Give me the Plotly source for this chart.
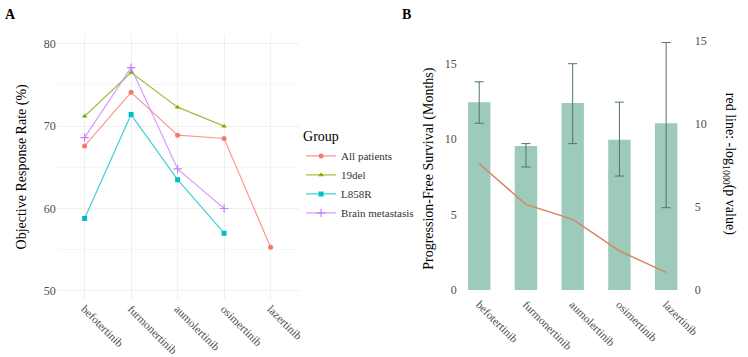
import plotly.graph_objects as go

W, H = 748, 357

drugs = ["befotertinib", "furmonertinib", "aumolertinib", "osimertinib", "lazertinib"]

# Panel A: objective response rate (%)
orr_all = [67.6, 74.1, 68.9, 68.5, 55.3]
orr_19del = [71.2, 76.5, 72.3, 70.0]
orr_l858r = [58.8, 71.4, 63.5, 57.0]
orr_brain = [68.6, 77.1, 64.8, 60.0]

# Panel B: PFS (months) with CI, and -log1000(p)
pfs_median = [12.45, 9.55, 12.4, 9.95, 11.05]
pfs_lower = [11.05, 8.15, 9.7, 7.55, 5.45]
pfs_upper = [13.8, 9.7, 15.0, 12.45, 16.4]
neglog_p = [7.6, 5.15, 4.25, 2.35, 1.05]

SERIF = "Liberation Serif"

groups = [
    ("All patients", orr_all, "#F8766D", "rgba(248,118,109,0.75)", "circle"),
    ("19del", orr_19del, "#7CAE00", "rgba(124,174,0,0.75)", "triangle-up"),
    ("L858R", orr_l858r, "#00BFC4", "rgba(0,191,196,0.75)", "square"),
    ("Brain metastasis", orr_brain, "#C77CFF", "rgba(199,124,255,0.75)", "cross-thin"),
]

fig = go.Figure()

for name, vals, col, lcol, sym in groups:
    marker = dict(color=col, size=5, symbol=sym)
    if sym == "cross-thin":
        marker.update(size=6, line=dict(color=col, width=1.2))
    fig.add_trace(go.Scatter(
        x=drugs[:len(vals)], y=vals, name=name, mode="lines+markers",
        line=dict(color=lcol, width=1.2), marker=marker,
        xaxis="x", yaxis="y", showlegend=True,
    ))

err_plus = [u - m for u, m in zip(pfs_upper, pfs_median)]
err_minus = [m - l for m, l in zip(pfs_median, pfs_lower)]

fig.add_trace(go.Bar(
    x=drugs, y=pfs_median, width=0.48,
    marker=dict(color="#9DCABB", line=dict(width=0)),
    error_y=dict(type="data", symmetric=False, array=err_plus, arrayminus=err_minus,
                 color="#52707C", thickness=1, width=4.5),
    xaxis="x2", yaxis="y2", showlegend=False,
))

fig.add_trace(go.Scatter(
    x=drugs, y=neglog_p, mode="lines",
    line=dict(color="#D9825E", width=1.4),
    xaxis="x2", yaxis="y3", showlegend=False,
))

tickfont = dict(family=SERIF, size=12, color="#4D4D4D")
xtickfont = dict(family=SERIF, size=11.5, color="#4D4D4D")
grid = "#F0F0F0"

fig.update_layout(
    width=W, height=H,
    margin=dict(l=0, r=0, t=0, b=0),
    paper_bgcolor="white", plot_bgcolor="white",
    font=dict(family=SERIF, color="black"),
    xaxis=dict(domain=[0.077, 0.4056], type="category", categoryorder="array",
               categoryarray=drugs, range=[-0.6, 4.6], tickangle=45, tickfont=xtickfont,
               showgrid=True, gridcolor=grid, gridwidth=1, zeroline=False,
               showline=False, ticks="", anchor="y"),
    yaxis=dict(domain=[0.147, 0.9137], range=[49, 81.2], tick0=50, dtick=10,
               tickfont=tickfont, showgrid=True, gridcolor=grid, gridwidth=1,
               minor=dict(dtick=5, showgrid=True, gridcolor="#F6F6F6", gridwidth=0.6),
               zeroline=False, showline=False, ticks="", anchor="x"),
    xaxis2=dict(domain=[0.6219, 0.9343], type="category", categoryorder="array",
                categoryarray=drugs, range=[-0.46, 4.46], tickangle=45, tickfont=xtickfont,
                showgrid=False, zeroline=False, showline=False, ticks="", anchor="y2"),
    yaxis2=dict(domain=[0.1597, 0.902], range=[-0.321, 16.71], tickvals=[0, 5, 10, 15],
                tickfont=tickfont, showgrid=False, zeroline=False, showline=False,
                ticks="", anchor="x2"),
    yaxis3=dict(domain=[0.1597, 0.902], range=[-0.292, 15.18], tickvals=[0, 5, 10, 15],
                tickfont=tickfont, showgrid=False, zeroline=False, showline=False,
                ticks="", overlaying="y2", side="right", anchor="x2",
                ticklabelstandoff=6),
    legend=dict(x=306 / W, y=1 - 123 / H, xanchor="left", yanchor="top",
                title=dict(text="Group", font=dict(family=SERIF, size=14, color="black")),
                font=dict(family=SERIF, size=11, color="#333333"),
                bgcolor="rgba(0,0,0,0)", itemwidth=30, tracegroupgap=0),
    annotations=[
        dict(text="<b>A</b>", x=3 / W, y=1 - 1 / H, xref="paper", yref="paper",
             xanchor="left", yanchor="top", showarrow=False,
             font=dict(family=SERIF, size=14, color="black")),
        dict(text="<b>B</b>", x=407 / W, y=1 - 1 / H, xref="paper", yref="paper",
             xanchor="left", yanchor="top", showarrow=False,
             font=dict(family=SERIF, size=14, color="black")),
        dict(text="Objective Response Rate (%)", x=22 / W, y=1 - 168 / H,
             xref="paper", yref="paper", textangle=-90, showarrow=False,
             xanchor="center", yanchor="middle",
             font=dict(family=SERIF, size=14, color="black")),
        dict(text="Progression-Free Survival (Months)", x=436 / W, y=1 - 170 / H,
             xref="paper", yref="paper", textangle=-90, showarrow=False,
             xanchor="center", yanchor="middle",
             font=dict(family=SERIF, size=14, color="black")),
        dict(text="red line: -log<sub>1000</sub>(p value)", x=741 / W, y=1 - 165 / H,
             xref="paper", yref="paper", textangle=90, showarrow=False,
             xanchor="center", yanchor="middle",
             font=dict(family=SERIF, size=14, color="black")),
    ],
)

fig.write_html(
    "out.html",
    config={"displayModeBar": False},
    post_script=(
        "document.documentElement.style.margin='0';"
        "document.documentElement.style.overflow='hidden';"
        "document.body.style.margin='0';document.body.style.overflow='hidden';"
    ),
)
